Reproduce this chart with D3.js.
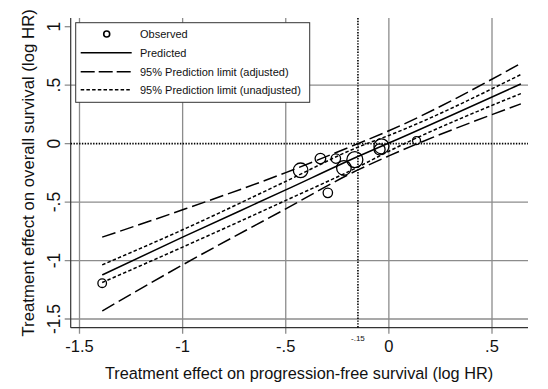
<!DOCTYPE html>
<html>
<head>
<meta charset="utf-8">
<script src="https://cdn.jsdelivr.net/npm/d3@7"></script>
<style>
  body { margin: 0; background: #fff; }
  text { font-family: "Liberation Sans", Arial, sans-serif; fill: #111; }
</style>
</head>
<body>
<svg width="548" height="389"></svg>
<script>
// observed trials (log HR), marker weight ~ trial size
const obsPFS = [-1.39, -0.428, -0.332, -0.257, -0.218, -0.165, -0.296, -0.036, -0.045, 0.134];
const obsOS = [-1.194, -0.228, -0.128, -0.128, -0.208, -0.137, -0.421, -0.023, -0.05, 0.026];
const obsWeight = [185, 533, 281, 221, 533, 640, 221, 562, 302, 160];

// lines
const lineX = [-1.39, -1, -0.5, -0.15, 0, 0.64];
const predicted = [-1.123, -0.8, -0.396, -0.11, 0.005, 0.511];
const upperAdj = [-0.8, -0.566, -0.248, 0.0, 0.11, 0.686];
const lowerAdj = [-1.431, -1.037, -0.558, -0.225, -0.105, 0.34];
const upperUnadj = [-1.037, -0.737, -0.323, -0.03, 0.07, 0.591];
const lowerUnadj = [-1.188, -0.885, -0.486, -0.2, -0.065, 0.428];

const xTicks = [-1.5, -1, -0.5, 0, 0.5];
const xTickLabels = ["-1.5", "-1", "-.5", "0", ".5"];
const yTicks = [1, 0.5, 0, -0.5, -1, -1.5];
const yTickLabels = ["1", ".5", "0", "-.5", "-1", "-1.5"];
const threshold = -0.15;

const legendLabels = ["Observed", "Predicted", "95% Prediction limit (adjusted)", "95% Prediction limit (unadjusted)"];

function run() {
  let svg = d3.select("svg");
  let pLeft = 70.7, pRight = 528, pTop = 18, pBottom = 327.7;

  let x = d3.scaleLinear().domain([-1.5, 0.5]).range([79.5, 492]);
  let y = d3.scaleLinear().domain([1, -1.5]).range([26.7, 319]);
  let r = d3.scaleSqrt().domain([0, 640]).range([0, 8]);

  let grid = "#8c8c8c";

  // grid lines
  svg.append("g").selectAll("line").data(xTicks).join("line")
    .attr("x1", d => x(d)).attr("x2", d => x(d))
    .attr("y1", pTop).attr("y2", pBottom + 6)
    .attr("stroke", grid).attr("stroke-width", 1.3);
  svg.append("g").selectAll("line").data(yTicks).join("line")
    .attr("x1", pLeft - 6).attr("x2", d => (d === 1 || d === 0) ? pLeft : pRight)
    .attr("y1", d => y(d)).attr("y2", d => y(d))
    .attr("stroke", grid).attr("stroke-width", 1.3);

  // axis lines
  svg.append("line").attr("x1", pLeft).attr("x2", pLeft).attr("y1", pTop).attr("y2", pBottom)
    .attr("stroke", "#333").attr("stroke-width", 1.2);
  svg.append("line").attr("x1", pLeft).attr("x2", pRight).attr("y1", pBottom).attr("y2", pBottom)
    .attr("stroke", "#333").attr("stroke-width", 1.2);

  // reference lines
  svg.append("line").attr("x1", pLeft).attr("x2", pRight).attr("y1", y(0)).attr("y2", y(0))
    .attr("stroke", "#000").attr("stroke-width", 1.6).attr("stroke-dasharray", "1.4,1.4");
  svg.append("line").attr("x1", x(threshold)).attr("x2", x(threshold)).attr("y1", pTop).attr("y2", pBottom)
    .attr("stroke", "#000").attr("stroke-width", 1.6).attr("stroke-dasharray", "1.4,1.4");

  // tick labels
  svg.append("g").selectAll("text").data(xTicks).join("text")
    .attr("x", d => x(d)).attr("y", 352)
    .attr("text-anchor", "middle").attr("font-size", 16.5)
    .text((d, i) => xTickLabels[i]);
  svg.append("g").selectAll("text").data(yTicks).join("text")
    .attr("transform", d => `translate(59.5,${y(d)}) rotate(-90)`)
    .attr("text-anchor", "middle").attr("font-size", 17.5)
    .text((d, i) => yTickLabels[i]);
  svg.append("text").attr("x", x(threshold)).attr("y", 341)
    .attr("text-anchor", "middle").attr("font-size", 8).text("-.15");

  // axis titles
  svg.append("text").attr("x", 299).attr("y", 378.5)
    .attr("text-anchor", "middle").attr("font-size", 16.3)
    .text("Treatment effect on progression-free survival (log HR)");
  svg.append("text").attr("transform", `translate(34,${(pTop + pBottom) / 2}) rotate(-90)`)
    .attr("text-anchor", "middle").attr("font-size", 16.8)
    .text("Treatment effect on overall survival (log HR)");

  // prediction lines
  let line = d3.line().x(d => x(d[0])).y(d => y(d[1])).curve(d3.curveMonotoneX);
  let series = [
    { v: predicted, dash: null },
    { v: upperAdj, dash: "14,5" },
    { v: lowerAdj, dash: "14,5" },
    { v: upperUnadj, dash: "3.5,2.2" },
    { v: lowerUnadj, dash: "3.5,2.2" }
  ];
  svg.append("g").selectAll("path").data(series).join("path")
    .attr("d", s => line(lineX.map((v, i) => [v, s.v[i]])))
    .attr("fill", "none").attr("stroke", "#000").attr("stroke-width", 1.5)
    .attr("stroke-dasharray", s => s.dash);

  // observed
  svg.append("g").selectAll("circle").data(obsPFS).join("circle")
    .attr("cx", d => x(d)).attr("cy", (d, i) => y(obsOS[i]))
    .attr("r", (d, i) => r(obsWeight[i]))
    .attr("fill", "none").attr("stroke", "#000").attr("stroke-width", 1.3);

  // legend
  let lg = svg.append("g").attr("transform", "translate(75.7,22.7)");
  lg.append("rect").attr("width", 234).attr("height", 79.6)
    .attr("fill", "#fff").attr("stroke", "#333").attr("stroke-width", 1);
  let rows = [11.3, 30, 49, 67];
  lg.append("circle").attr("cx", 31).attr("cy", rows[0]).attr("r", 3)
    .attr("fill", "none").attr("stroke", "#000").attr("stroke-width", 1.6);
  [null, "14,4", "3.5,2.2"].forEach((dash, i) => {
    lg.append("line").attr("x1", 5).attr("x2", 56).attr("y1", rows[i + 1]).attr("y2", rows[i + 1])
      .attr("stroke", "#000").attr("stroke-width", 1.4).attr("stroke-dasharray", dash);
  });
  lg.selectAll("text").data(legendLabels).join("text")
    .attr("x", 64.3).attr("y", (d, i) => rows[i] + 4)
    .attr("font-size", 11).text(d => d);
}

run();
</script>
</body>
</html>
